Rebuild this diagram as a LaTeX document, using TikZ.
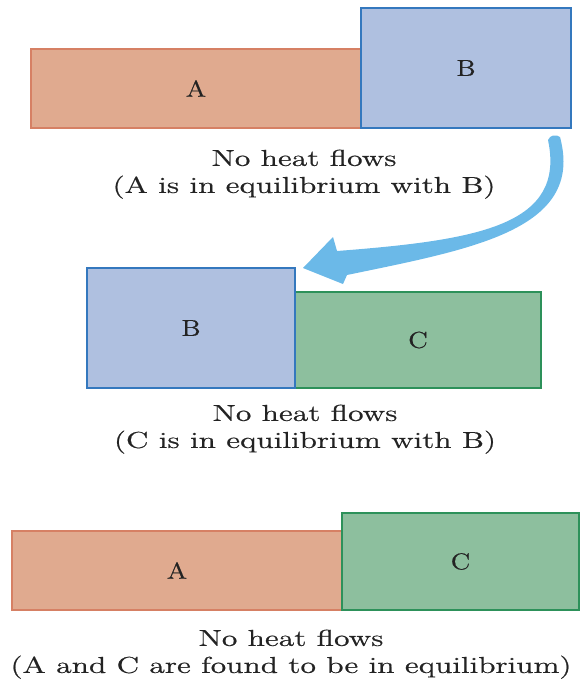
\documentclass[tikz,border=0pt]{standalone}
\usepackage{fontspec}
\newfontfamily\capfont[BoldFont=lmroman12-regular.otf, BoldFeatures={FakeBold=0.6}]{lmroman12-regular.otf}
\usetikzlibrary{positioning}
\definecolor{afill}{RGB}{224,170,143}
\definecolor{adraw}{RGB}{214,128,100}
\definecolor{bfill}{RGB}{175,192,224}
\definecolor{bdraw}{RGB}{52,120,190}
\definecolor{cfill}{RGB}{141,191,158}
\definecolor{cdraw}{RGB}{45,145,90}
\definecolor{arrowblue}{RGB}{107,185,232}
\definecolor{txt}{RGB}{35,35,35}
\newcommand{\wide}[1]{\scalebox{1.38}[1]{\begin{tabular}{@{}c@{}}#1\end{tabular}}}
\newcommand{\lbl}[1]{\scalebox{1.2}[1]{#1}}
\tikzset{
  blk/.style={draw, rectangle, inner sep=0pt, text=txt, font=\capfont\bfseries\fontsize{23}{27}\selectfont},
  ablk/.style={blk, fill=afill, draw=adraw, line width=1.2pt},
  bblk/.style={blk, fill=bfill, draw=bdraw, line width=2pt},
  cblk/.style={blk, fill=cfill, draw=cdraw, line width=2pt},
  captext/.style={align=center, inner sep=0pt, text=txt, font=\capfont\bfseries\fontsize{23}{27}\selectfont}
}
\begin{document}
\begin{tikzpicture}[x=1pt,y=-1pt]
\useasboundingbox (0,0) rectangle (579,685);
% top row
\node[ablk, minimum width=330pt, minimum height=79pt] (a1) at (196,88.5) {\lbl{A}};
\node[bblk, minimum width=210pt, minimum height=120pt] (b1) at (466,68) {\lbl{B}};
\node[captext] (t1) at (304,174) {\wide{No heat flows\\(A is in equilibrium with B)}};
% middle row
\node[cblk, minimum width=246pt, minimum height=96pt] (c2) at (418,340) {\lbl{C}};
\node[bblk, minimum width=208pt, minimum height=120pt] (b2) at (191,328) {\lbl{B}};
\node[captext] (t2) at (305,429) {\wide{No heat flows\\(C is in equilibrium with B)}};
% bottom row
\node[ablk, minimum width=330pt, minimum height=79pt] (a3) at (177,570.5) {\lbl{A}};
\node[cblk, minimum width=237pt, minimum height=97pt] (c3) at (460.5,561.5) {\lbl{C}};
\node[captext] (t3) at (291,654) {\wide{No heat flows\\(A and C are found to be in equilibrium)}};
% curved arrow
\fill[arrowblue] (548,140) .. controls (566,225) and (480,240) .. (337,251)
  -- (333,237) -- (303,268) -- (343,284) -- (347,275)
  .. controls (472,249) and (585,230) .. (560,137)
  .. controls (556,134) and (550,135) .. (548,140) -- cycle;
\end{tikzpicture}
\end{document}
